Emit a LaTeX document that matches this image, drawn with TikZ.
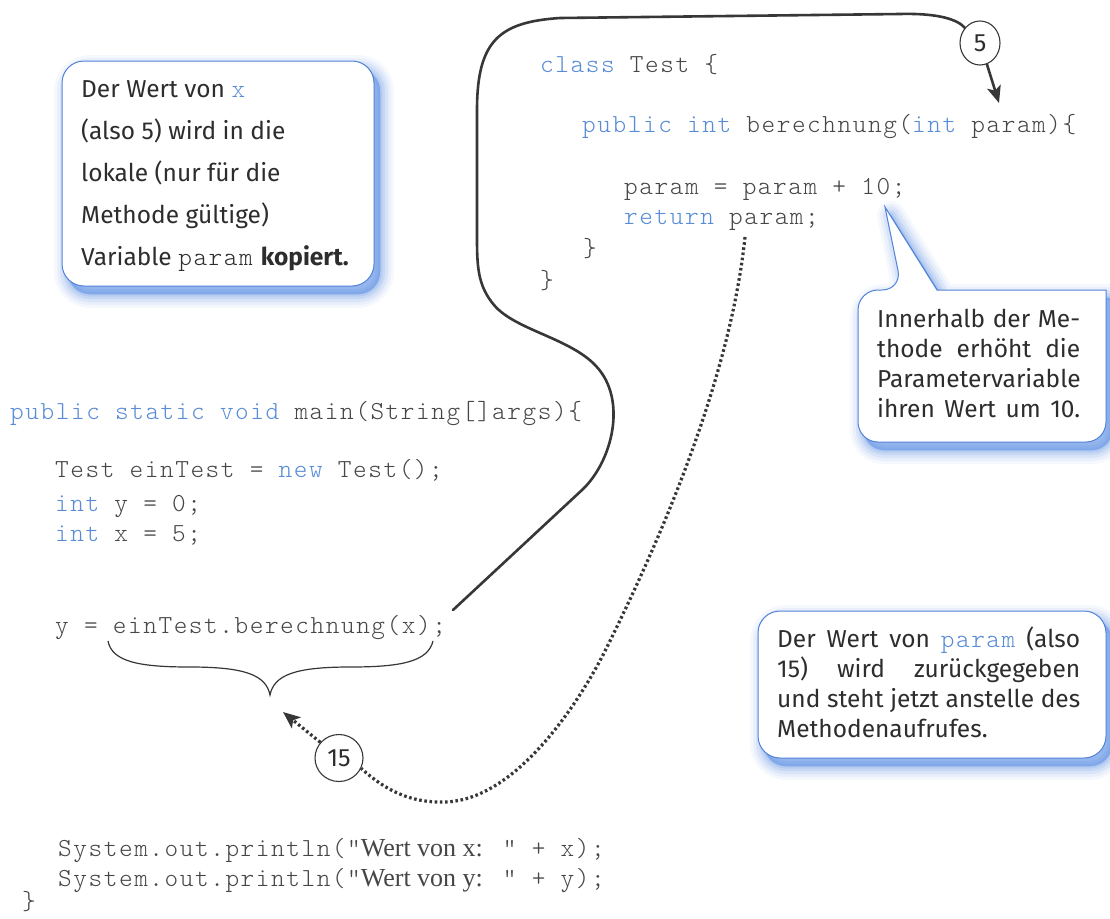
\documentclass[tikz,border=0pt]{standalone}
\usepackage{fontspec}
\setsansfont{Fira Sans}
\setmonofont{lmmonolt10-regular.otf}[LetterSpace=6]
\newfontfamily\stringfont{Liberation Serif}
\usetikzlibrary{arrows.meta,shapes.geometric}

\definecolor{kwblue}{RGB}{88,140,214}
\definecolor{codegray}{RGB}{70,70,70}
\definecolor{textgray}{RGB}{45,45,45}
\definecolor{linegray}{RGB}{55,55,55}
\definecolor{noteblue}{RGB}{80,130,215}
\definecolor{shadeblue}{RGB}{95,145,230}

\newcommand{\kw}[1]{\textcolor{kwblue}{#1}}
\newcommand{\prosecode}[1]{{\fontsize{26}{26}\selectfont\ttfamily #1}}
% soft blue glow under a callout outline
\newcommand{\glowpath}[2][]{%
  \foreach \w/\o in {28/0.06,22/0.08,16/0.11,10/0.14,5/0.17,1/0.2}{%
    \path[#1, draw=shadeblue, fill=shadeblue, line width=\w pt,
      draw opacity=\o, fill opacity=\o, line join=round,
      xshift=6pt, yshift=-8pt] #2;}}

\tikzset{
  src/.style={anchor=base west, inner sep=0pt, text=codegray,
    font=\fontsize{26}{30}\selectfont\ttfamily},
  prose/.style={anchor=base west, inner sep=0pt, text=textgray,
    font=\fontsize{24.5}{28}\selectfont\sffamily},
  notebox/.style={draw=noteblue, line width=1pt, fill=white},
  marker/.style={draw=linegray, line width=1.1pt, fill=white,
    ellipse, inner sep=0pt, text=textgray,
    font=\fontsize{25}{25}\selectfont\sffamily},
  callpath/.style={draw=linegray, line width=2.6pt, line cap=round},
  returnpath/.style={draw=linegray, line width=3.2pt,
    dash pattern=on 2.6pt off 2.6pt},
  headtip/.style={-{Stealth[length=17pt,width=14pt,inset=4pt]}}
}

\begin{document}
\begin{tikzpicture}[x=1pt,y=-1pt]
\useasboundingbox (0,0) rectangle (1110,918);
\fill[white] (0,0) rectangle (1110,918);

% ---------- callout boxes ----------
\glowpath[rounded corners=22pt]{(62,61) rectangle (374,286)}
\path[notebox, rounded corners=22pt] (62,61) rectangle (374,286);

\glowpath{(885,207) -- (937,290) -- (1106,290) [rounded corners=20pt]
  -- (1106,442) -- (858,442) -- (858,290) -- (902,290) [sharp corners] -- cycle}
\path[notebox] (885,207) -- (937,290) -- (1106,290) [rounded corners=20pt]
  -- (1106,442) -- (858,442) -- (858,290) -- (902,290) [sharp corners] -- cycle;

\glowpath[rounded corners=22pt]{(758,611) rectangle (1106,758)}
\path[notebox, rounded corners=22pt] (758,611) rectangle (1106,758);

% ---------- callout texts ----------
\node[prose] (copyA) at (81,97)  {Der Wert von \kw{\prosecode{x}}};
\node[prose] (copyB) at (81,139) {(also 5) wird in die};
\node[prose] (copyC) at (81,181) {lokale (nur für die};
\node[prose] (copyD) at (81,223) {Methode gültige)};
\node[prose] (copyE) at (81,265) {Variable \prosecode{param} \textbf{kopiert.}};

\node[prose] (incA) at (877,327) {\makebox[203pt][s]{Innerhalb der Me-}};
\node[prose] (incB) at (877,357) {\makebox[203pt][s]{thode erhöht die}};
\node[prose] (incC) at (877,387) {\makebox[203pt][s]{Parametervariable}};
\node[prose] (incD) at (877,417) {\makebox[203pt][s]{ihren Wert um 10.}};

\node[prose] (retA) at (777,647) {\makebox[303pt][s]{Der Wert von \kw{\prosecode{param}} (also}};
\node[prose] (retB) at (777,677) {\makebox[303pt][s]{15) wird zurückgegeben}};
\node[prose] (retC) at (777,707) {\makebox[303pt][s]{und steht jetzt anstelle des}};
\node[prose] (retD) at (777,737) {Methodenaufrufes.};

% ---------- class Test ----------
\node[src] (clsHead) at (540,72)  {\kw{class} Test \{};
\node[src] (mHead)   at (582,132) {\kw{public int} berechnung(\kw{int} param)\{};
\node[src] (mAdd)    at (624,194) {param = param + 10;};
\node[src] (mRet)    at (624,224) {\kw{return} param;};
\node[src] (mEnd)    at (583,256) {\}};
\node[src] (clsEnd)  at (540,288) {\}};

% ---------- main method ----------
\node[src] (mainHead) at (10,419) {\kw{public static void} main(String[]args)\{};
\node[src] (mkObj)    at (55,477) {Test einTest = \kw{new} Test();};
\node[src] (declY)    at (55,511) {\kw{int} y = 0;};
\node[src] (declX)    at (55,541) {\kw{int} x = 5;};
\node[src] (call)     at (55,633) {y = einTest.berechnung(x);};
\node[src] (printX)   at (58,856) {System.out.println("{\stringfont Wert von x:}\hspace{20pt}" + x);};
\node[src] (printY)   at (58,886) {System.out.println("{\stringfont Wert von y:}\hspace{20pt}" + y);};
\node[src] (mainEnd)  at (22,909) {\}};

% ---------- brace under the method call ----------
\draw[linegray, line width=1.2pt]
  (108,641) .. controls (112,662) and (140,667) .. (190,667)
  .. controls (245,667) and (266,675) .. (270,695)
  .. controls (274,675) and (295,667) .. (350,667)
  .. controls (400,667) and (428,662) .. (433,641);

% ---------- value markers ----------
\node[marker, minimum width=40pt, minimum height=44pt] (five) at (980,43) {5};
\node[marker, minimum width=48pt, minimum height=47pt] (fifteen) at (339,758) {15};

\coordinate (callend) at (453,610);
\coordinate (paramtip) at (999,103);
\coordinate (retstart) at (745,237);
\coordinate (bracearrow) at (283,712);

% argument passed into the method
\draw[callpath] (callend) -- (582,490)
  .. controls (612,462) and (628,400) .. (596,366)
  .. controls (570,338) and (515,330) .. (494,305)
  .. controls (479,287) and (477,270) .. (477,240)
  -- (477,110)
  .. controls (477,40) and (500,22) .. (560,18)
  -- (900,14)
  .. controls (940,13) and (958,20) .. (five.135);
\draw[callpath, headtip] (five.-72) -- (paramtip);

% result handed back to the caller
\draw[returnpath] (retstart)
  .. controls (730,380) and (660,540) .. (607,647)
  .. controls (585,692) and (520,800) .. (445,802)
  .. controls (410,803) and (385,790) .. (fifteen.-25);
\draw[returnpath, headtip] (fifteen.140) -- (bracearrow);
\end{tikzpicture}
\end{document}
